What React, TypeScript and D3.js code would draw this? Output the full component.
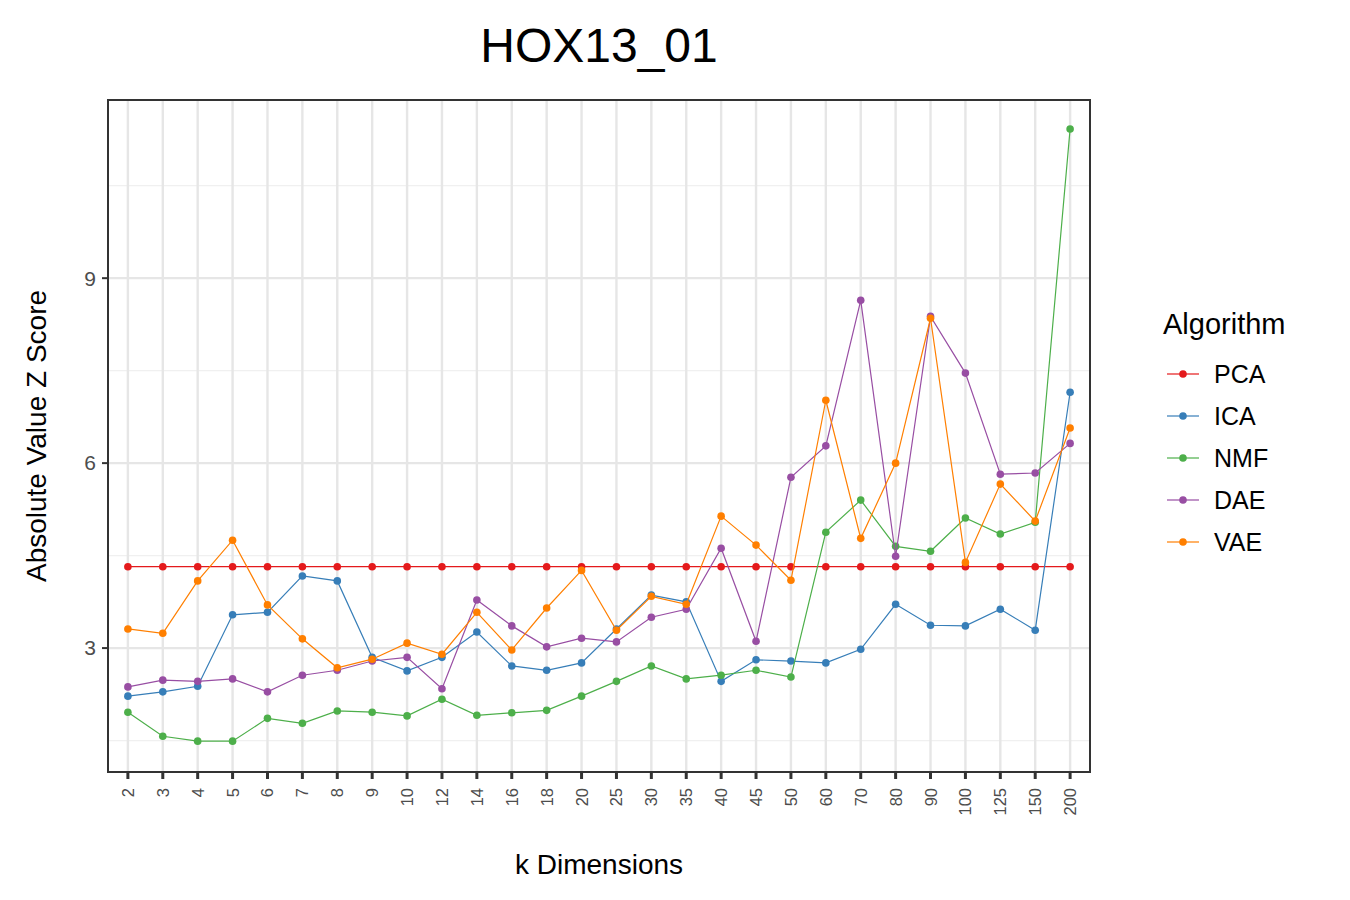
import React, { useEffect, useRef } from "react";
import * as d3 from "d3";

const dims = ["2","3","4","5","6","7","8","9","10","12","14","16","18","20","25","30","35","40","45","50","60","70","80","90","100","125","150","200"];
const pca = dims.map(() => 4.32);
const ica = [2.22,2.29,2.38,3.54,3.58,4.17,4.09,2.85,2.63,2.85,3.26,2.71,2.64,2.76,3.31,3.86,3.75,2.46,2.81,2.79,2.76,2.98,3.71,3.37,3.36,3.63,3.29,7.15];
const nmf = [1.96,1.57,1.49,1.49,1.86,1.78,1.98,1.96,1.90,2.17,1.91,1.95,1.99,2.22,2.46,2.71,2.50,2.56,2.64,2.53,4.88,5.40,4.65,4.57,5.11,4.85,5.04,11.42];
const dae = [2.37,2.48,2.46,2.50,2.29,2.56,2.64,2.79,2.85,2.34,3.78,3.36,3.02,3.16,3.10,3.50,3.63,4.62,3.11,5.77,6.28,8.64,4.49,8.38,7.46,5.82,5.84,6.32];
const vae = [3.31,3.24,4.09,4.75,3.70,3.15,2.68,2.82,3.08,2.90,3.58,2.97,3.65,4.26,3.29,3.84,3.71,5.14,4.67,4.10,7.02,4.78,6.00,8.35,4.39,5.66,5.06,6.57];
const seriesNames = ["PCA","ICA","NMF","DAE","VAE"];
const seriesColors = ["#E41A1C","#377EB8","#4DAF4A","#984EA3","#FF7F00"];
const seriesValues = [pca, ica, nmf, dae, vae];
const yTicks = [3, 6, 9];
const yMinor = [1.5, 4.5, 7.5, 10.5];

export default function App() {
  const ref = useRef<SVGSVGElement>(null);
  useEffect(() => {
    const svg = d3.select(ref.current);
    svg.selectAll("*").remove();
    const L = 108, R = 1090, T = 100, B = 772;
    const x = d3.scalePoint<string>().domain(dims).range([L, R]).padding(0.57);
    const y = d3.scaleLinear().domain([0.99, 11.89]).range([B, T]);
    const font = "Arial, 'Liberation Sans', sans-serif";

    const g = svg.append("g");
    yMinor.forEach((v) => g.append("line").attr("x1", L).attr("x2", R).attr("y1", y(v)).attr("y2", y(v)).attr("stroke", "#f0f0f0").attr("stroke-width", 1.2));
    yTicks.forEach((v) => g.append("line").attr("x1", L).attr("x2", R).attr("y1", y(v)).attr("y2", y(v)).attr("stroke", "#e6e6e6").attr("stroke-width", 2.4));
    dims.forEach((d) => g.append("line").attr("x1", x(d)!).attr("x2", x(d)!).attr("y1", T).attr("y2", B).attr("stroke", "#e6e6e6").attr("stroke-width", 2.4));

    const line = d3.line<number>().x((_, i) => x(dims[i])!).y((v) => y(v));
    seriesValues.forEach((vals, si) => {
      g.append("path").datum(vals).attr("d", line).attr("fill", "none").attr("stroke", seriesColors[si]).attr("stroke-width", 1.2);
      g.selectAll(null).data(vals).enter().append("circle")
        .attr("cx", (_, i) => x(dims[i])!).attr("cy", (v) => y(v)).attr("r", 3.8).attr("fill", seriesColors[si]);
    });

    g.append("rect").attr("x", L).attr("y", T).attr("width", R - L).attr("height", B - T).attr("fill", "none").attr("stroke", "#333").attr("stroke-width", 2);

    yTicks.forEach((v) => {
      g.append("line").attr("x1", L - 6).attr("x2", L).attr("y1", y(v)).attr("y2", y(v)).attr("stroke", "#333").attr("stroke-width", 2);
      g.append("text").attr("x", L - 12).attr("y", y(v)).attr("dy", "0.35em").attr("text-anchor", "end").attr("font-family", font).attr("font-size", 21).attr("fill", "#4d4d4d").text(String(v));
    });
    dims.forEach((d) => {
      g.append("line").attr("x1", x(d)!).attr("x2", x(d)!).attr("y1", B).attr("y2", B + 7).attr("stroke", "#333").attr("stroke-width", 3);
      g.append("text").attr("transform", `translate(${x(d)! + 6},${B + 16}) rotate(-90)`).attr("text-anchor", "end").attr("font-family", font).attr("font-size", 16.5).attr("fill", "#4d4d4d").text(d);
    });

    svg.append("text").attr("x", 599).attr("y", 62).attr("text-anchor", "middle").attr("font-family", font).attr("font-size", 48).text("HOX13_01");
    svg.append("text").attr("x", 599).attr("y", 874).attr("text-anchor", "middle").attr("font-family", font).attr("font-size", 28).text("k Dimensions");
    svg.append("text").attr("transform", `translate(46,436) rotate(-90)`).attr("text-anchor", "middle").attr("font-family", font).attr("font-size", 28).text("Absolute Value Z Score");

    const leg = svg.append("g");
    leg.append("text").attr("x", 1163).attr("y", 334).attr("font-family", font).attr("font-size", 29).text("Algorithm");
    seriesNames.forEach((n, i) => {
      const yy = 374 + i * 42;
      leg.append("line").attr("x1", 1167).attr("x2", 1199).attr("y1", yy).attr("y2", yy).attr("stroke", seriesColors[i]).attr("stroke-width", 1.2);
      leg.append("circle").attr("cx", 1183).attr("cy", yy).attr("r", 3.8).attr("fill", seriesColors[i]);
      leg.append("text").attr("x", 1214).attr("y", yy).attr("dy", "0.35em").attr("font-family", font).attr("font-size", 25).text(n);
    });
  }, []);
  return <svg ref={ref} width={1350} height={900} style={{ position: "absolute", left: 0, top: 0, background: "#fff" }} />;
}
